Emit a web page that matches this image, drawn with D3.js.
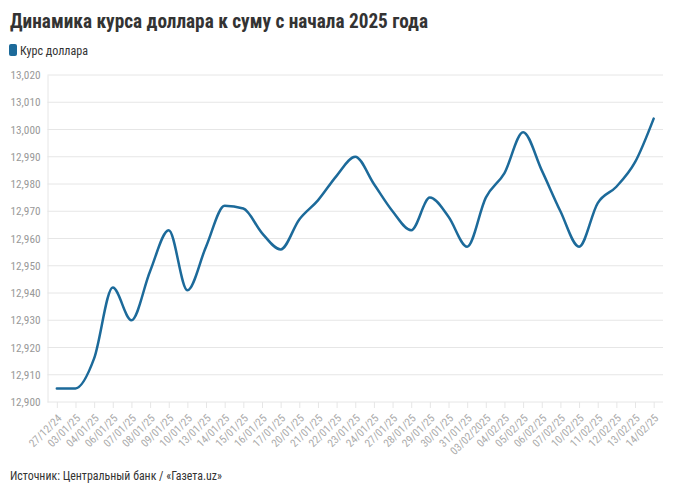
<!DOCTYPE html>
<html><head><meta charset="utf-8">
<script src="https://cdn.jsdelivr.net/npm/d3@7"></script>
<style>body{margin:0;background:#fff}svg{display:block}</style>
</head><body>
<svg id="c" width="680" height="492"></svg>
<script>
const categories = ["27/12/24","03/01/25","04/01/25","06/01/25","07/01/25","08/01/25","09/01/25","10/01/25","13/01/25","14/01/25","15/01/25","16/01/25","17/01/25","20/01/25","21/01/25","22/01/25","23/01/25","24/01/25","27/01/25","28/01/25","29/01/25","30/01/25","31/01/25","03/02/2025","04/02/25","05/02/25","06/02/25","07/02/25","10/02/25","11/02/25","12/02/25","13/02/25","14/02/25"];
const rates = [12905,12905,12916,12942,12930,12948,12963,12941,12957,12972,12971,12962,12956,12967,12974,12983,12990,12980,12970,12963,12975,12968,12957,12975,12984,12999,12985,12970,12957,12973,12979,12988,13004];
const yTicks = [12900,12910,12920,12930,12940,12950,12960,12970,12980,12990,13000,13010,13020];
const seriesName = "Курс доллара";
const title = "Динамика курса доллара к суму с начала 2025 года";
const source = "Источник: Центральный банк / «Газета.uz»";

const font = "'Roboto Condensed','Liberation Sans Narrow','Roboto',sans-serif";
const svg = d3.select("#c");
const L = 47.5, R = 663, T = 75, B = 402;
const x = d3.scalePoint().domain(categories).range([L, R]).padding(0.5);
const y = d3.scaleLinear().domain([12900, 13020]).range([B, T]);

svg.append("text").attr("x", 10).attr("y", 28).text(title)
  .attr("font-family", font).attr("font-weight", 700).attr("font-size", 21)
  .attr("fill", "#333").attr("textLength", 418).attr("lengthAdjust", "spacingAndGlyphs");

svg.append("rect").attr("x", 9).attr("y", 44).attr("width", 8).attr("height", 12).attr("rx", 2).attr("fill", "#1c6a9a");
svg.append("text").attr("x", 20).attr("y", 55).text(seriesName)
  .attr("font-family", font).attr("font-size", 12).attr("fill", "#333")
  .attr("textLength", 68).attr("lengthAdjust", "spacingAndGlyphs");

// grid
svg.append("g").selectAll("line").data(yTicks).join("line")
  .attr("x1", L).attr("x2", R).attr("y1", d => y(d)).attr("y2", d => y(d))
  .attr("stroke", "#e6e6e6").attr("stroke-width", 1);

// y axis
const ya = svg.append("g").attr("transform", `translate(${L},0)`)
  .call(d3.axisLeft(y).tickValues(yTicks).tickSize(0).tickPadding(7).tickFormat(d3.format(",")));
ya.select(".domain").attr("stroke", "#e6e6e6");
ya.selectAll("text").attr("font-family", font).attr("font-size", 11).attr("fill", "#999")
  .each(function(){ d3.select(this).attr("textLength", 30).attr("lengthAdjust","spacingAndGlyphs"); });

// x axis
const xa = svg.append("g").attr("transform", `translate(0,${B})`)
  .call(d3.axisBottom(x).tickSize(6).tickPadding(2));
xa.select(".domain").remove();
xa.selectAll(".tick line").attr("stroke", "#e6e6e6");
xa.selectAll("text").attr("font-family", font).attr("font-size", 11).attr("fill", "#aaa")
  .attr("text-anchor", "end").attr("x", 0).attr("y", 0).attr("dy", 0)
  .attr("transform", "translate(5,17) rotate(-45)");

// line
svg.append("path").datum(rates)
  .attr("d", d3.line().x((d, i) => x(categories[i])).y(d => y(d)).curve(d3.curveMonotoneX))
  .attr("fill", "none").attr("stroke", "#1c6a9a").attr("stroke-width", 2.5)
  .attr("stroke-linejoin", "round").attr("stroke-linecap", "round");

svg.append("text").attr("x", 10).attr("y", 480).text(source)
  .attr("font-family", font).attr("font-size", 12).attr("fill", "#333")
  .attr("textLength", 212).attr("lengthAdjust", "spacingAndGlyphs");
</script>
</body></html>
